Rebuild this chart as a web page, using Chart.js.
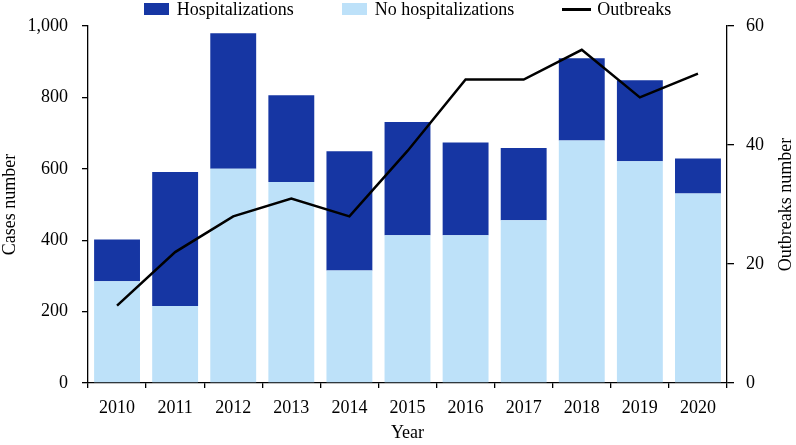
<!DOCTYPE html>
<html><head><meta charset="utf-8">
<script src="https://cdn.jsdelivr.net/npm/chart.js@4.4.0/dist/chart.umd.min.js"></script>
<style>
html,body{margin:0;padding:0;background:#fff;}
#wrap{position:relative;width:796px;height:445px;}
#legend{position:absolute;left:88px;width:639px;top:0;height:20px;display:flex;justify-content:center;font:18px "Liberation Serif","Times New Roman",serif;line-height:18px;color:#000;white-space:nowrap;}
.item{display:flex;align-items:flex-start;margin:0 24px;}
.box{width:25px;height:12px;margin-top:3px;margin-right:8px;}
.ln{width:29px;height:2.5px;background:#000;margin-top:8px;margin-right:6px;}
</style></head>
<body><div id="wrap"><canvas id="c" width="796" height="445"></canvas><div id="legend"></div></div>
<script>
const years = ['2010','2011','2012','2013','2014','2015','2016','2017','2018','2019','2020'];
const noHospitalizations = [285, 216, 600, 563, 315, 414, 414, 456, 679, 621, 531];
const hospitalizations = [117, 375, 380, 243, 334, 317, 260, 202, 231, 227, 98];
const outbreaks = [13, 22, 28, 31, 28, 39, 51, 51, 56, 48, 52];
const leftTicks = [0, 200, 400, 600, 800, 1000];
const rightTicks = [0, 20, 40, 60];
const xTitle = 'Year';
const leftTitle = 'Cases number';
const rightTitle = 'Outbreaks number';
const seriesNames = ['Hospitalizations', 'No hospitalizations', 'Outbreaks'];

const DARK = '#1636A3', LIGHT = '#BDE1F9';
const FONT = '"Liberation Serif", "Times New Roman", serif';

// HTML legend
const lg = document.getElementById('legend');
[[seriesNames[0], 'box', DARK], [seriesNames[1], 'box', LIGHT], [seriesNames[2], 'ln', '#000']].forEach(([t, k, c]) => {
  const it = document.createElement('div'); it.className = 'item';
  const m = document.createElement('div'); m.className = k; m.style.background = c;
  const s = document.createElement('span'); s.textContent = t;
  it.appendChild(m); it.appendChild(s); lg.appendChild(it);
});

const rightTitlePlugin = {
  id: 'rightTitle',
  afterDraw(chart) {
    const ctx = chart.ctx, a = chart.chartArea;
    ctx.save();
    ctx.font = '18px ' + FONT;
    ctx.fillStyle = '#000';
    ctx.textAlign = 'center';
    ctx.textBaseline = 'middle';
    ctx.translate(786, (a.top + a.bottom) / 2);
    ctx.rotate(-Math.PI / 2);
    ctx.fillText(rightTitle, 0, 0);
    ctx.restore();
  }
};

const tickFont = {family: FONT, size: 18};
new Chart(document.getElementById('c'), {
  type: 'bar',
  data: {
    labels: years,
    datasets: [
      {type: 'line', label: seriesNames[2], data: outbreaks, yAxisID: 'y1', borderColor: '#000', backgroundColor: '#000', borderWidth: 2.5, pointRadius: 0, tension: 0, order: 0},
      {label: seriesNames[1], data: noHospitalizations, backgroundColor: LIGHT, yAxisID: 'y', stack: 's', order: 1, categoryPercentage: 1, barPercentage: 0.79},
      {label: seriesNames[0], data: hospitalizations, backgroundColor: DARK, yAxisID: 'y', stack: 's', order: 1, categoryPercentage: 1, barPercentage: 0.79}
    ]
  },
  options: {
    responsive: false,
    animation: false,
    devicePixelRatio: 1,
    layout: {padding: {top: 26, left: 0, right: 0, bottom: 0}},
    plugins: {legend: {display: false}, tooltip: {enabled: false}},
    scales: {
      x: {
        stacked: true, offset: true,
        grid: {display: true, drawOnChartArea: false, tickLength: 5, color: '#000', lineWidth: 1.3},
        border: {display: true, color: '#000', width: 1.3},
        ticks: {font: tickFont, color: '#000', padding: 9, maxRotation: 0},
        title: {display: true, text: xTitle, font: {family: FONT, size: 18, lineHeight: 1.2}, color: '#000', padding: {top: 0, bottom: 1}},
        afterFit(s) { s.height = 62; }
      },
      y: {
        stacked: true, position: 'left', min: 0, max: 1000,
        afterBuildTicks(s) { s.ticks = leftTicks.map(v => ({value: v})); },
        grid: {display: true, drawOnChartArea: false, tickLength: 6, color: '#000', lineWidth: 1.3},
        border: {display: true, color: '#000', width: 1.3},
        ticks: {font: tickFont, color: '#000', padding: 14, callback: v => v.toLocaleString('en-US')},
        title: {display: true, text: leftTitle, font: {family: FONT, size: 18, lineHeight: 1.1}, color: '#000', padding: {top: 0, bottom: 0}},
        afterFit(s) { s.width = 88; }
      },
      y1: {
        position: 'right', min: 0, max: 60,
        afterBuildTicks(s) { s.ticks = rightTicks.map(v => ({value: v})); },
        grid: {display: true, drawOnChartArea: false, tickLength: 7, color: '#000', lineWidth: 1.3},
        border: {display: true, color: '#000', width: 1.3},
        ticks: {font: tickFont, color: '#000', padding: 12},
        afterFit(s) { s.width = 69; }
      }
    }
  },
  plugins: [rightTitlePlugin]
});
</script>
</body></html>
